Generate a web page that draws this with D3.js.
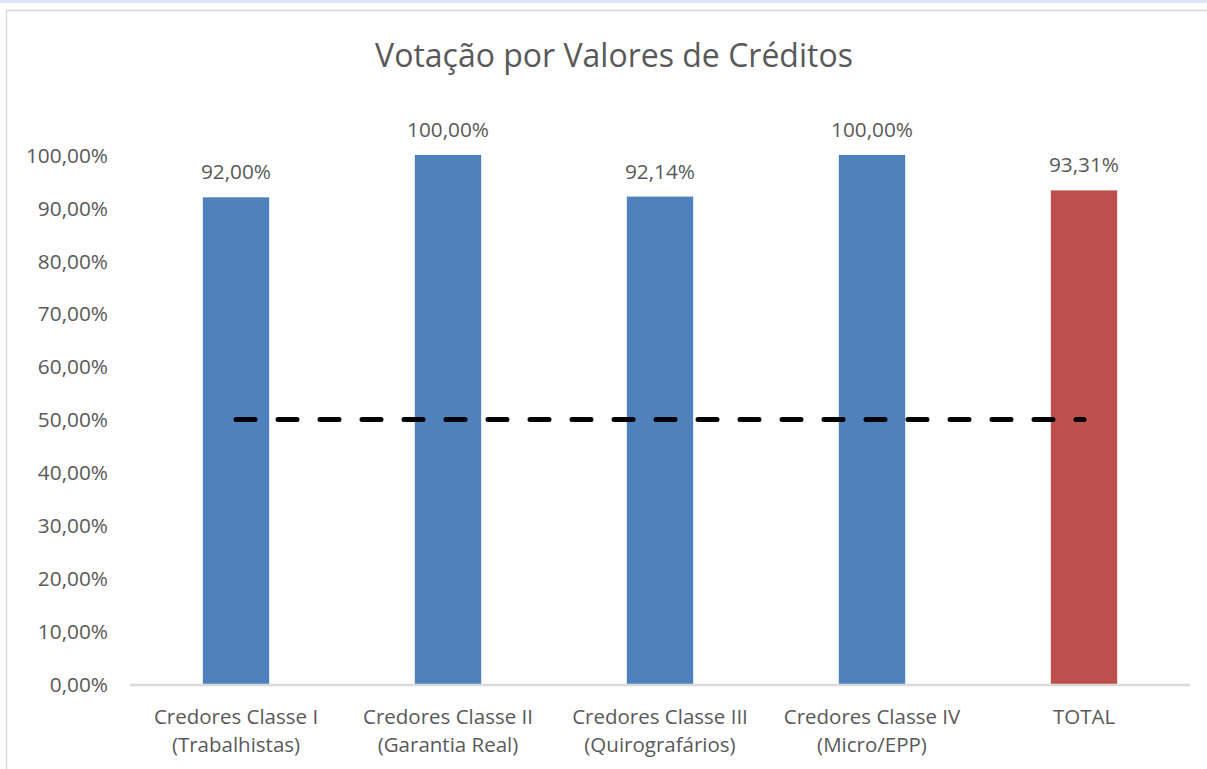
<!DOCTYPE html>
<html>
<head>
<meta charset="utf-8">
<script src="https://cdn.jsdelivr.net/npm/d3@7"></script>
<style>
  body { margin: 0; background: #fff; }
  text { font-family: "Open Sans", sans-serif; fill: #595959; }
</style>
</head>
<body>
<div id="graph"></div>
<script>
// Chart data
const categories = [
  ["Credores Classe I", "(Trabalhistas)"],
  ["Credores Classe II", "(Garantia Real)"],
  ["Credores Classe III", "(Quirografários)"],
  ["Credores Classe IV", "(Micro/EPP)"],
  ["TOTAL"]
];
const votes = [0.92, 1.0, 0.9214, 1.0, 0.9331];
const threshold = [0.5, 0.5, 0.5, 0.5, 0.5];
const yTicks = [0, 0.1, 0.2, 0.3, 0.4, 0.5, 0.6, 0.7, 0.8, 0.9, 1.0];
const title = "Votação por Valores de Créditos";

drawChart();

function drawChart() {
  const w = 1207;
  const h = 769;

  // Plot area
  const left = 130, right = 1190, top = 155, bottom = 684;

  // Brazilian number format (comma decimal)
  const locale = d3.formatLocale({ decimal: ",", thousands: ".", grouping: [3], currency: ["R$", ""] });
  const pct = locale.format(".2%");

  const svg = d3.select("#graph")
    .append("svg")
    .attr("width", w)
    .attr("height", h);

  // page strip and chart frame
  svg.append("rect")
    .attr("x", 0).attr("y", 0)
    .attr("width", w).attr("height", 3)
    .attr("fill", "#dde7f2");
  svg.append("rect")
    .attr("x", 6.5).attr("y", 10.5)
    .attr("width", w + 10).attr("height", h + 10)
    .attr("fill", "#fff")
    .attr("stroke", "#d9d9d9")
    .attr("stroke-width", 1.5);

  // Scales
  const idx = d3.range(categories.length);
  const x = d3.scaleBand()
    .domain(idx)
    .range([left, right])
    .paddingInner(0.687)
    .paddingOuter(0.3435);
  const y = d3.scaleLinear()
    .domain([0, 1])
    .range([bottom, top]);

  // Title
  svg.append("text")
    .attr("x", 614)
    .attr("y", 67)
    .attr("text-anchor", "middle")
    .style("font-size", "32px")
    .text(title);

  // Y axis labels
  const yAxis = d3.axisLeft(y)
    .tickValues(yTicks)
    .tickFormat(pct)
    .tickSize(0)
    .tickPadding(0);
  const gy = svg.append("g")
    .attr("transform", `translate(108,0)`)
    .call(yAxis);
  gy.select(".domain").remove();
  gy.selectAll("text")
    .style("font-size", "20.8px")
    .attr("fill", "#595959")
    .attr("dy", "0.35em");

  // Bars
  svg.selectAll("rect.bar")
    .data(votes)
    .enter()
    .append("rect")
    .attr("class", "bar")
    .attr("x", (d, i) => x(i))
    .attr("y", (d) => y(d))
    .attr("width", x.bandwidth())
    .attr("height", (d) => y(0) - y(d))
    .attr("fill", (d, i) => i === votes.length - 1 ? "#c0504d" : "#4f81bd");

  // Bar labels
  svg.selectAll("text.val")
    .data(votes)
    .enter()
    .append("text")
    .attr("class", "val")
    .attr("x", (d, i) => x(i) + x.bandwidth() / 2)
    .attr("y", (d) => y(d) - 18)
    .attr("text-anchor", "middle")
    .style("font-size", "20.8px")
    .text((d) => pct(d));

  // X axis line
  svg.append("line")
    .attr("x1", left).attr("x2", right)
    .attr("y1", y(0) + 1).attr("y2", y(0) + 1)
    .attr("stroke", "#d9d9d9")
    .attr("stroke-width", 2.5);

  // X labels
  const xl = svg.selectAll("text.cat")
    .data(categories)
    .enter()
    .append("text")
    .attr("class", "cat")
    .attr("text-anchor", "middle")
    .style("font-size", "20.5px");
  xl.selectAll("tspan")
    .data((d, i) => d.map((s) => ({ s, i })))
    .enter()
    .append("tspan")
    .attr("x", (d) => x(d.i) + x.bandwidth() / 2)
    .attr("y", (d, j) => 724 + j * 28)
    .text((d) => d.s);

  // 50% threshold line
  const line = d3.line()
    .x((d, i) => x(i) + x.bandwidth() / 2)
    .y((d) => y(d));
  svg.append("path")
    .datum(threshold)
    .attr("d", line)
    .attr("fill", "none")
    .attr("stroke", "#000")
    .attr("stroke-width", 5)
    .attr("stroke-linecap", "round")
    .attr("stroke-dasharray", "19 23");
}
</script>
</body>
</html>
